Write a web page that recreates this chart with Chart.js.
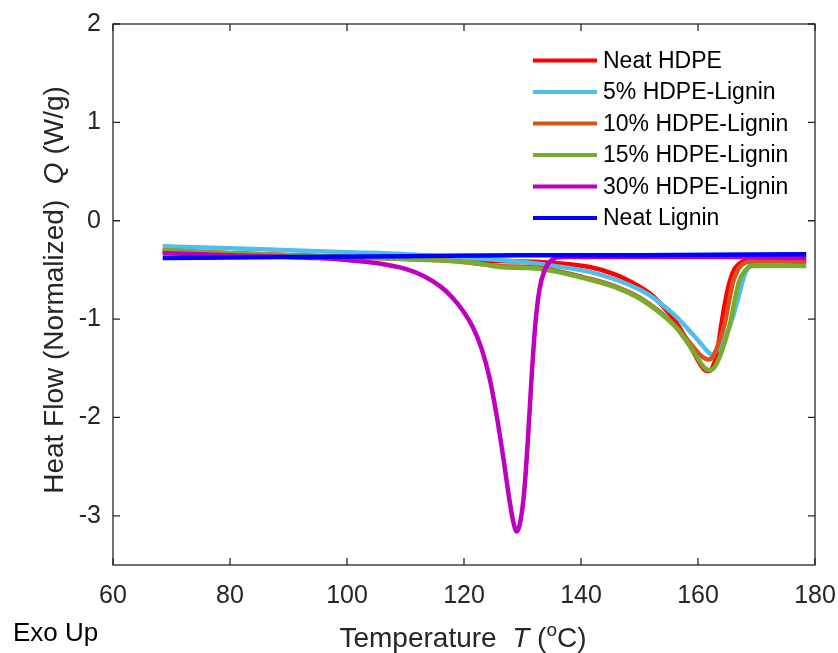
<!DOCTYPE html>
<html>
<head>
<meta charset="utf-8">
<script src="https://cdn.jsdelivr.net/npm/chart.js@4"></script>
<style>
  html, body { margin: 0; padding: 0; background: #fff; }
  #wrap { width: 838px; height: 653px; }
</style>
</head>
<body>
<div id="wrap"><canvas id="c" width="838" height="653"></canvas></div>
<script>
// ---- data ----
const xTicks = [60, 80, 100, 120, 140, 160, 180];
const yTicks = [-3, -2, -1, 0, 1, 2];
const seriesNames = ['Neat HDPE', '5% HDPE-Lignin', '10% HDPE-Lignin', '15% HDPE-Lignin', '30% HDPE-Lignin', 'Neat Lignin'];
const seriesColors = ['#FF0000', '#4DBEEE', '#D95319', '#77AC30', '#BF00BF', '#0000FF'];

const tHDPE = [68.5, 80, 90, 100, 110, 118, 126, 133, 141.5, 146, 150, 152, 154, 156, 157.5, 159, 160.3, 161.2, 161.8, 162.5, 163.2, 164, 165, 166, 167, 168, 170, 174, 178.5];
const qHDPE = [-0.31, -0.33, -0.35, -0.37, -0.38, -0.40, -0.41, -0.42, -0.47, -0.55, -0.67, -0.75, -0.87, -1.01, -1.15, -1.31, -1.45, -1.52, -1.53, -1.49, -1.36, -1.05, -0.72, -0.52, -0.44, -0.41, -0.40, -0.41, -0.42];

const t5 = [68.5, 80, 90, 100, 110, 118, 126, 133, 141.5, 146, 150, 152, 154, 156, 157.5, 159, 160.5, 161.5, 162.3, 163.2, 164, 164.8, 165.5, 166.2, 166.9, 167.5, 168.1, 168.8, 169.6, 171, 174, 178.5];
const q5 = [-0.26, -0.28, -0.30, -0.32, -0.34, -0.37, -0.40, -0.44, -0.52, -0.60, -0.70, -0.77, -0.86, -0.96, -1.05, -1.15, -1.25, -1.32, -1.36, -1.32, -1.25, -1.16, -1.06, -0.93, -0.78, -0.64, -0.53, -0.46, -0.435, -0.425, -0.42, -0.42];

const t10 = [68.5, 80, 90, 100, 110, 118, 126, 133, 141.5, 146, 150, 152, 154, 156, 157.5, 159, 160.3, 161.2, 161.8, 162.6, 163.5, 164.6, 165.3, 166, 167, 168, 170, 174, 178.5];
const q10 = [-0.30, -0.33, -0.35, -0.37, -0.39, -0.41, -0.46, -0.48, -0.59, -0.67, -0.78, -0.86, -0.95, -1.06, -1.16, -1.27, -1.36, -1.40, -1.41, -1.38, -1.25, -1.04, -0.82, -0.62, -0.48, -0.43, -0.41, -0.41, -0.42];

const t15 = [68.5, 80, 90, 100, 110, 118, 122, 126, 133, 141.5, 146, 150, 152, 154, 156, 157.5, 159, 160.3, 161.2, 162, 162.8, 163.6, 164.5, 165.5, 166.3, 167, 168, 169.4, 172, 178.5];
const q15 = [-0.30, -0.33, -0.35, -0.37, -0.39, -0.41, -0.43, -0.47, -0.49, -0.60, -0.68, -0.79, -0.87, -0.96, -1.07, -1.18, -1.31, -1.43, -1.50, -1.52, -1.49, -1.40, -1.25, -1.04, -0.80, -0.62, -0.51, -0.46, -0.46, -0.46];

const t30 = [68.5, 80, 95, 100, 105, 110, 113, 116, 118, 120, 121.5, 123, 124.3, 125.5, 126.7, 127.8, 128.5, 129, 129.6, 130.3, 131, 131.6, 132.2, 132.9, 133.8, 135, 137, 150, 165, 178.5];
const q30 = [-0.33, -0.35, -0.38, -0.40, -0.43, -0.49, -0.56, -0.67, -0.78, -0.93, -1.08, -1.30, -1.58, -1.95, -2.40, -2.85, -3.08, -3.16, -3.07, -2.75, -2.15, -1.55, -1.05, -0.70, -0.50, -0.40, -0.37, -0.37, -0.37, -0.38];

const tLignin = [68.5, 90, 110, 130, 150, 178.5];
const qLignin = [-0.38, -0.37, -0.36, -0.35, -0.35, -0.34];

const seriesT = [tHDPE, t5, t10, t15, t30, tLignin];
const seriesQ = [qHDPE, q5, q10, q15, q30, qLignin];

// ---- chart ----
const FONT = '"Liberation Sans", Arial, Helvetica, sans-serif';
const AXIS_COLOR = '#262626';

const datasets = seriesNames.map((name, i) => ({
  label: name,
  data: seriesT[i].map((t, k) => ({ x: t, y: seriesQ[i][k] })),
  borderColor: seriesColors[i],
  backgroundColor: seriesColors[i],
  borderWidth: 4.5,
  pointRadius: 0,
  fill: false,
  cubicInterpolationMode: 'monotone',
  order: seriesNames.length - i
}));

const framePlugin = {
  id: 'frame',
  afterDatasetsDraw(chart) {
    const ctx = chart.ctx;
    const a = chart.chartArea;
    const xs = chart.scales.x, ys = chart.scales.y;
    ctx.save();
    ctx.strokeStyle = AXIS_COLOR;
    ctx.lineWidth = 1.3;
    ctx.strokeRect(a.left, a.top, a.right - a.left, a.bottom - a.top);
    const tl = 7;
    ctx.beginPath();
    xTicks.forEach(v => {
      const px = xs.getPixelForValue(v);
      ctx.moveTo(px, a.bottom); ctx.lineTo(px, a.bottom - tl);
      ctx.moveTo(px, a.top); ctx.lineTo(px, a.top + tl);
    });
    yTicks.forEach(v => {
      const py = ys.getPixelForValue(v);
      ctx.moveTo(a.left, py); ctx.lineTo(a.left + tl, py);
      ctx.moveTo(a.right, py); ctx.lineTo(a.right - tl, py);
    });
    ctx.stroke();

    // legend
    ctx.textAlign = 'left';
    ctx.textBaseline = 'middle';
    ctx.font = '23px ' + FONT;
    chart.data.datasets.forEach((ds, i) => {
      const y = 60.5 + i * 31.5;
      ctx.strokeStyle = ds.borderColor;
      ctx.lineWidth = 4;
      ctx.beginPath();
      ctx.moveTo(533, y); ctx.lineTo(597, y);
      ctx.stroke();
      ctx.fillStyle = '#000';
      ctx.fillText(ds.label, 603, y + 1);
    });

    const drawPieces = (pieces, startX, baseY) => {
      let x = startX;
      pieces.forEach(p => {
        ctx.font = p.font;
        ctx.fillText(p.text, x, baseY + (p.dy || 0));
        x += ctx.measureText(p.text).width;
      });
    };
    const measurePieces = pieces => pieces.reduce((s, p) => { ctx.font = p.font; return s + ctx.measureText(p.text).width; }, 0);

    // x title
    ctx.fillStyle = AXIS_COLOR;
    ctx.textBaseline = 'alphabetic';
    const xt = [
      { text: 'Temperature  ', font: '28px ' + FONT },
      { text: 'T', font: 'italic 28px ' + FONT },
      { text: ' (', font: '28px ' + FONT },
      { text: 'o', font: '19px ' + FONT, dy: -11 },
      { text: 'C)', font: '28px ' + FONT }
    ];
    const xw = measurePieces(xt);
    drawPieces(xt, 463 - xw / 2, 647);

    // y title
    const yt = [
      { text: 'Heat Flow (Normalized)  ', font: '28px ' + FONT },
      { text: 'Q', font: 'italic 28px ' + FONT },
      { text: ' (W/g)', font: '28px ' + FONT }
    ];
    const yw = measurePieces(yt);
    ctx.save();
    ctx.translate(63, 290);
    ctx.rotate(-Math.PI / 2);
    drawPieces(yt, -yw / 2, 0);
    ctx.restore();

    // Exo Up
    ctx.font = '26px ' + FONT;
    ctx.fillStyle = '#000';
    ctx.fillText('Exo Up', 13, 641);
    ctx.restore();
  }
};

new Chart(document.getElementById('c'), {
  type: 'line',
  data: { datasets },
  options: {
    responsive: false,
    animation: false,
    events: [],
    layout: { padding: { top: 24, right: 23, left: 0, bottom: 0 } },
    plugins: { legend: { display: false }, tooltip: { enabled: false } },
    scales: {
      x: {
        type: 'linear',
        min: 60, max: 180,
        afterBuildTicks: s => { s.ticks = xTicks.map(v => ({ value: v })); },
        afterFit: s => { s.height = 88; s.paddingLeft = 0; s.paddingRight = 0; },
        grid: { display: false, drawTicks: false },
        border: { display: false },
        ticks: { font: { family: FONT, size: 25 }, color: AXIS_COLOR, padding: 16, maxRotation: 0 }
      },
      y: {
        type: 'linear',
        min: -3.5, max: 2,
        afterBuildTicks: s => { s.ticks = yTicks.map(v => ({ value: v })); },
        afterFit: s => { s.width = 113; s.paddingTop = 0; s.paddingBottom = 0; },
        grid: { display: false, drawTicks: false },
        border: { display: false },
        ticks: { font: { family: FONT, size: 25 }, color: AXIS_COLOR, padding: 12 }
      }
    }
  },
  plugins: [framePlugin]
});
</script>
</body>
</html>
